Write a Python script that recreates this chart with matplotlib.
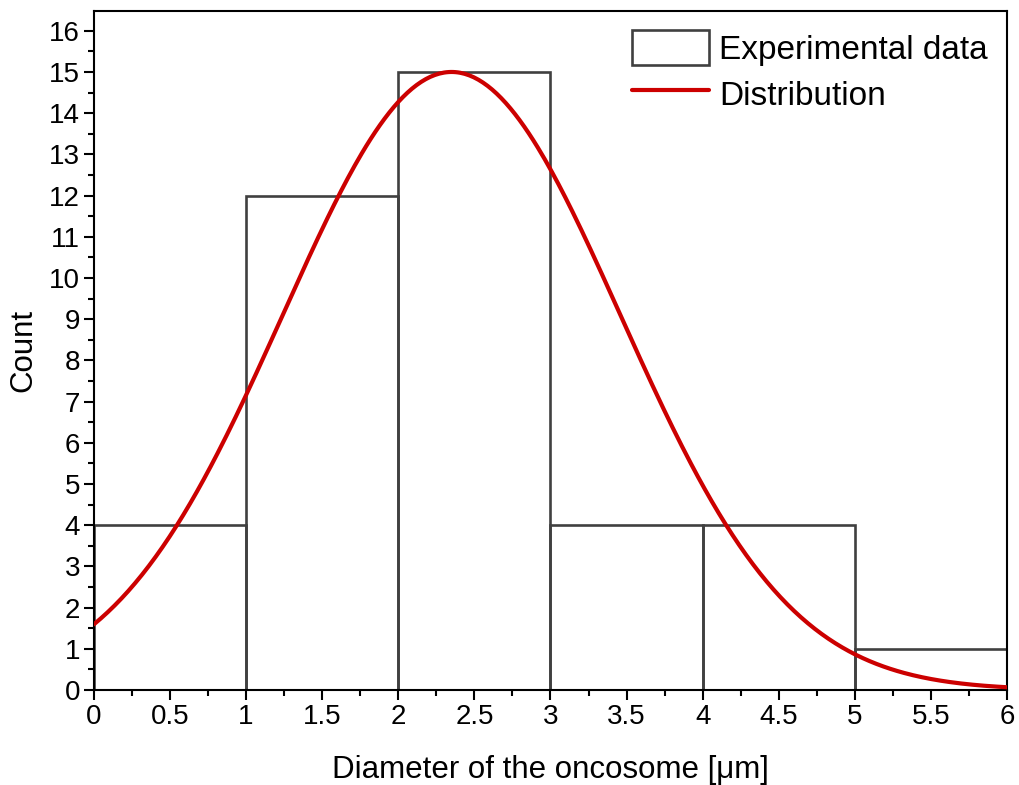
import numpy as np
import matplotlib.pyplot as plt
from matplotlib.ticker import MultipleLocator

plt.rcParams['font.family'] = ['Liberation Sans', 'DejaVu Sans']

# histogram bins (left edges) and counts
bin_left = [0, 1, 2, 3, 4, 5]
bin_width = 1
counts = [4, 12, 15, 4, 4, 1]

# fitted normal distribution parameters
fit_center = 2.35
fit_sigma = 1.11
fit_amplitude = 15.0

x_fit = np.linspace(0, 6, 400)
y_fit = fit_amplitude * np.exp(-(x_fit - fit_center) ** 2 / (2 * fit_sigma ** 2))

fig = plt.figure(figsize=(10.19, 7.85), dpi=100)
ax = fig.add_axes([0.0922, 0.121, 0.896, 0.865])

bars = ax.bar(bin_left, counts, width=bin_width, align='edge', facecolor='none',
              edgecolor='#404040', linewidth=1.9, zorder=2)
line, = ax.plot(x_fit, y_fit, color='#cc0000', linewidth=3.0,
                solid_capstyle='round', zorder=3)

ax.set_xlim(0, 6)
ax.set_ylim(0, 16.48)
xt = np.arange(0, 6.01, 0.5)
ax.set_xticks(xt)
ax.set_xticklabels([('%g' % v) for v in xt])
ax.xaxis.set_minor_locator(MultipleLocator(0.25))
ax.yaxis.set_major_locator(MultipleLocator(1))
ax.yaxis.set_minor_locator(MultipleLocator(0.5))

ax.tick_params(which='major', direction='out', length=7, width=1.5,
               labelsize=20, pad=3)
ax.tick_params(which='minor', direction='out', length=4, width=1.5)
for s in ax.spines.values():
    s.set_linewidth(1.5)

ax.set_xlabel('Diameter of the oncosome [μm]', fontsize=22.5, labelpad=18)
ax.set_ylabel('Count', fontsize=22.5, labelpad=8)

ax.legend([bars, line], ['Experimental data', 'Distribution'],
          loc='upper left', bbox_to_anchor=(0.582, 0.982), frameon=False,
          fontsize=24, handlelength=2.3, handleheight=1.25, handletextpad=0.32,
          labelspacing=0.3, borderaxespad=0.0, borderpad=0.2)

fig.savefig('out.png', dpi=100)
